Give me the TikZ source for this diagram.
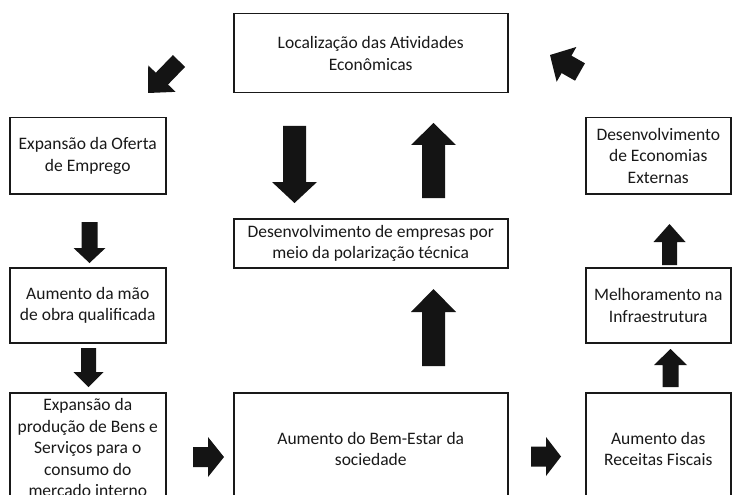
\documentclass[tikz,border=0pt]{standalone}
\usepackage{fontspec}
\setmainfont{Carlito}
\usetikzlibrary{calc}
\newcommand\blockarr[5]{%
  \coordinate (ba-b) at ($(#2)!#5!(#1)$);
  \fill[arrowfill] ($(#1)!#3!90:(#2)$) -- ($(ba-b)!#3!90:(#2)$) -- ($(ba-b)!#4!90:(#2)$) -- (#2) -- ($(ba-b)!#4!-90:(#2)$) -- ($(ba-b)!#3!-90:(#2)$) -- ($(#1)!#3!-90:(#2)$) -- cycle;}
\begin{document}
\begin{tikzpicture}[x=1pt,y=-1pt,
  box/.style={draw=black!90, line width=1.5pt, anchor=north west, align=center, inner sep=0pt,
    font=\fontsize{17.5}{21.5}\selectfont, text=black!90},
  arrowfill/.style={fill=black!92}]
\useasboundingbox (0,0) rectangle (732,495);
\fill[white] (0,0) rectangle (732,495);
\clip (0,0) rectangle (732,495);
% boxes
\node[box, minimum width=274pt, minimum height=79pt] (loc) at (233,13) {Localização das Atividades\\Econômicas};
\node[box, minimum width=274pt, minimum height=49pt] (emp) at (233,218) {Desenvolvimento de empresas por\\meio da polarização técnica};
\node[box, minimum width=156pt, minimum height=76pt] (ofer) at (9,117) {Expansão da Oferta\\de Emprego};
\node[box, minimum width=156pt, minimum height=75pt] (mao) at (9,267) {Aumento da mão\\de obra qualificada};
\node[box, minimum width=156pt, minimum height=110pt] (prod) at (9,392) {Expansão da\\produção de Bens e\\Serviços para o\\consumo do\\mercado interno};
\node[box, minimum width=274pt, minimum height=112pt] (bem) at (233,392) {Aumento do Bem-Estar da\\sociedade};
\node[box, minimum width=145pt, minimum height=76pt] (ext) at (585,117) {Desenvolvimento\\de Economias\\Externas};
\node[box, minimum width=145pt, minimum height=75pt] (inf) at (585,267) {Melhoramento na\\Infraestrutura};
\node[box, minimum width=145pt, minimum height=112pt] (rec) at (585,392) {Aumento das\\Receitas Fiscais};
% arrow end points
\coordinate (a1t) at (294.5,126); \coordinate (a1h) at (294.5,203);
\coordinate (a2t) at (433.5,198); \coordinate (a2h) at (433.5,123);
\coordinate (a3t) at (433.5,366); \coordinate (a3h) at (433.5,289);
\coordinate (a4t) at (89.5,222);  \coordinate (a4h) at (89.5,263);
\coordinate (a5t) at (88.5,348);  \coordinate (a5h) at (88.5,387);
\coordinate (a6t) at (193,457);   \coordinate (a6h) at (224,457);
\coordinate (a7t) at (531,456.5); \coordinate (a7h) at (561,456.5);
\coordinate (a8t) at (670.5,387); \coordinate (a8h) at (670.5,349);
\coordinate (a9t) at (669.5,265); \coordinate (a9h) at (669.5,224);
\coordinate (d1t) at (179,61);    \coordinate (d1h) at (148,93);
\coordinate (d2t) at (580,72);    \coordinate (d2h) at (550,55);
% block arrows
\blockarr{a1t}{a1h}{11.5pt}{22.5pt}{21pt}
\blockarr{a2t}{a2h}{11.5pt}{22.5pt}{22pt}
\blockarr{a3t}{a3h}{11.5pt}{22.5pt}{23pt}
\blockarr{a4t}{a4h}{8pt}{16pt}{15pt}
\blockarr{a5t}{a5h}{7.5pt}{15pt}{15pt}
\blockarr{a6t}{a6h}{10pt}{20pt}{16pt}
\blockarr{a7t}{a7h}{10pt}{19.5pt}{15pt}
\blockarr{a8t}{a8h}{8pt}{16.5pt}{16pt}
\blockarr{a9t}{a9h}{7.5pt}{16pt}{18pt}
\blockarr{d1t}{d1h}{8.5pt}{19pt}{20pt}
\blockarr{d2t}{d2h}{10pt}{20pt}{19pt}
\end{tikzpicture}
\end{document}
